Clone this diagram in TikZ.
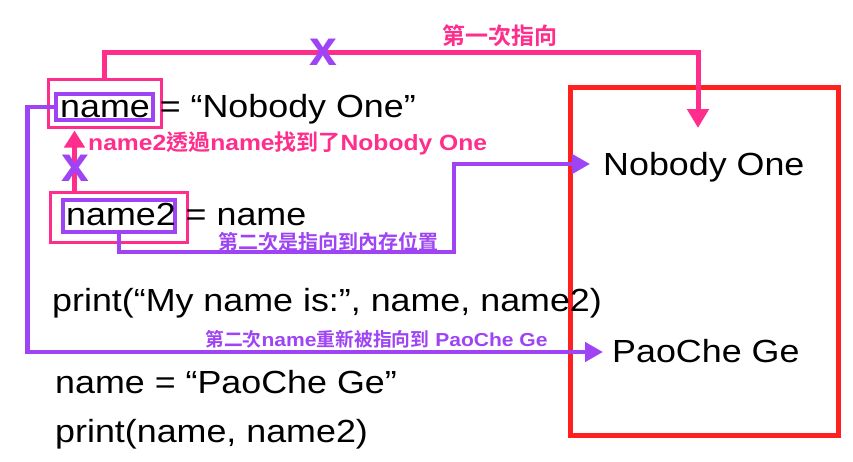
\documentclass[tikz,border=0pt]{standalone}
\usepackage{fontspec}
\setmainfont{Liberation Sans}[FakeStretch=1.12]
\newfontfamily\plainsans{Liberation Sans}
\newfontfamily\cjk{Noto Sans CJK TC}[BoldFont={* Bold}]
\usetikzlibrary{arrows.meta}
\definecolor{pinkc}{RGB}{255,45,140}
\definecolor{purc}{RGB}{158,68,245}
\definecolor{redc}{RGB}{255,32,32}
\begin{document}
\begin{tikzpicture}[x=1pt,y=-1pt,
  code/.style={font=\fontsize{32}{36}\selectfont, inner sep=0pt, anchor=base west},
  pinkbox/.style={draw=pinkc, line width=3pt, inner sep=0pt},
  purbox/.style={draw=purc, line width=3.5pt, inner sep=0pt},
  pinkln/.style={draw=pinkc, line width=5pt, line join=miter},
  purln/.style={draw=purc, line width=4.5pt, line join=miter},
  tipA/.style={-{Triangle[length=19pt,width=21pt]}},
  tipB/.style={-{Triangle[length=18pt,width=19pt]}},
  xmark/.style={text=purc, font=\plainsans\fontsize{50}{50}\selectfont\bfseries, inner sep=0pt},
  lab/.style={font=\bfseries, inner sep=0pt}
]
\useasboundingbox (0,0) rectangle (853,461);
% memory box
\node[draw=redc, line width=5pt, minimum width=268pt, minimum height=348pt, inner sep=0pt] (mem) at (704,261) {};
% boxes
\node[pinkbox, minimum width=113pt, minimum height=48pt] (nb1) at (104.5,103) {};
\node[purbox, minimum width=97pt, minimum height=26pt] (pb1) at (104.5,107) {};
\node[pinkbox, minimum width=137pt, minimum height=50pt] (nb2) at (118.5,217) {};
\node[purbox, minimum width=112pt, minimum height=32pt] (pb2) at (119,216) {};
% code text
\node[code] (t1) at (60,117) {name = “Nobody One”};
\node[code] (t2) at (66,225) {name2 = name};
\node[code] (t3) at (52,311) {print(“My name is:”, name, name2)};
\node[code] (t4) at (55,393) {name = “PaoChe Ge”};
\node[code] (t5) at (55,442) {print(name, name2)};
\node[code] (nob) at (603,175) {Nobody One};
\node[code] (pc) at (612,362) {PaoChe Ge};
% coordinates
\coordinate (c1) at (698,52);
\coordinate (tip1) at (698,128);
\coordinate (tip2) at (603,352);
\coordinate (c2) at (454,252);
\coordinate (tip3) at (590,164);
% connectors
\draw[pinkln, tipA] (nb1.north) |- (c1) -- (tip1);
\draw[purln, tipB] (pb1.west) -- ([xshift=-27pt]pb1.west) |- (tip2);
\draw[purln, tipB] (pb2.south) |- (c2) |- (tip3);
\draw[pinkln, line width=4.5pt, -{Triangle[length=17pt,width=20pt]}] ([xshift=26pt]nb2.north west) -- ([xshift=26pt,yshift=-2pt]nb2.north west |- nb1.south);
% X marks
\node[xmark] (x1) at (323,52) {x};
\node[xmark] (x2) at (75,168) {x};
% labels
\node[lab, text=pinkc, font=\fontsize{23}{26}\selectfont\bfseries] (l1) at (500,36) {\cjk 第一次指向};
\node[lab, text=pinkc, anchor=west, font=\fontsize{22}{26}\selectfont\bfseries] (l2) at (88,143) {name2{\cjk 透過}name{\cjk 找到了}Nobody One};
\node[lab, text=purc, font=\fontsize{20}{23}\selectfont\bfseries] (l3) at (328,242) {\cjk 第二次是指向到內存位置};
\node[lab, text=purc, anchor=west, font=\fontsize{18.8}{21}\selectfont\bfseries] (l4) at (205,339) {{\cjk 第二次}name{\cjk 重新被指向到} PaoChe Ge};
\end{tikzpicture}
\end{document}
